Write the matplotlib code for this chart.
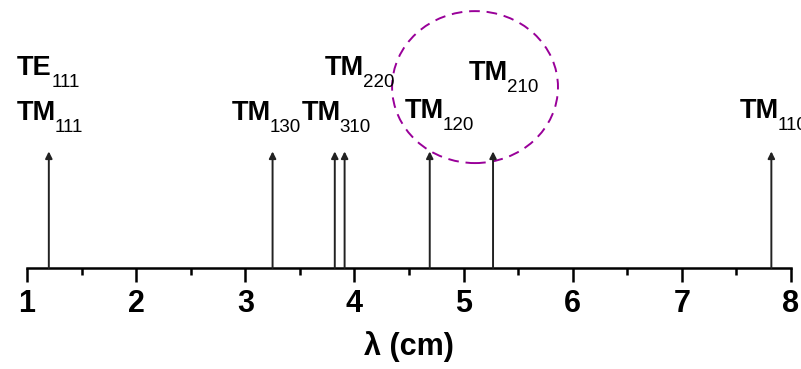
import matplotlib
matplotlib.use("Agg")
import matplotlib.pyplot as plt
from matplotlib.patches import Ellipse

# Resonant mode wavelengths (cm)
wavelengths = [1.20, 3.25, 3.82, 3.91, 4.69, 5.27, 7.82]
line_height = 0.435

# mode labels: main text, subscript, left edge (cm), baseline height
label_main = ["TE", "TM", "TM", "TM", "TM", "TM", "TM", "TM"]
label_sub = ["111", "111", "130", "310", "220", "120", "210", "110"]
label_x = [0.908, 0.908, 2.878, 3.52, 3.73, 4.46, 5.05, 7.53]
label_y = [0.72, 0.552, 0.552, 0.552, 0.72, 0.56, 0.70, 0.56]

plt.rcParams["font.family"] = ["Liberation Sans", "DejaVu Sans"]

fig = plt.figure(figsize=(8.01, 3.69), dpi=100)
ax = fig.add_axes([27 / 801, (369 - 268) / 369, (791 - 27) / 801, 268 / 369])
ax.set_xlim(1, 8)
ax.set_ylim(0, 1)

for x in wavelengths:
    ax.annotate("", xy=(x, line_height), xytext=(x, 0),
                arrowprops=dict(arrowstyle="-|>", lw=1.4, color="#222222",
                                mutation_scale=10, shrinkA=0, shrinkB=0))

for main, sub, x, y in zip(label_main, label_sub, label_x, label_y):
    t = ax.text(x, y, main, fontsize=19.5, fontweight="bold",
                ha="left", va="baseline", clip_on=False)
    dx = 0.3 if main == "TE" else -1.2
    ax.annotate(sub, xy=(1, 0), xycoords=t, xytext=(dx, -4.3),
                textcoords="offset points", fontsize=13.5,
                ha="left", va="baseline", annotation_clip=False)

# dashed ring around the TM120 / TM210 pair
ring = Ellipse((5.105, 0.675), 1.52, 0.567, fill=False, ls=(0, (5.5, 3.5)),
               lw=1.4, edgecolor="#990099", clip_on=False)
ax.add_patch(ring)

for s in ["top", "right", "left"]:
    ax.spines[s].set_visible(False)
ax.spines["bottom"].set_linewidth(1.8)
ax.set_yticks([])
ax.set_xticks(range(1, 9))
ax.set_xticks([x + 0.5 for x in range(1, 8)], minor=True)
ax.tick_params(axis="x", which="major", length=10, width=1.8, pad=5)
ax.tick_params(axis="x", which="minor", length=5, width=1.8)
for lbl in ax.get_xticklabels():
    lbl.set_fontweight("bold")
    lbl.set_fontsize(22)

ax.set_xlabel("λ (cm)", fontsize=22, fontweight="bold")
ax.xaxis.set_label_coords(0.5, -0.235)

fig.savefig("out.png", dpi=100, facecolor="white")
